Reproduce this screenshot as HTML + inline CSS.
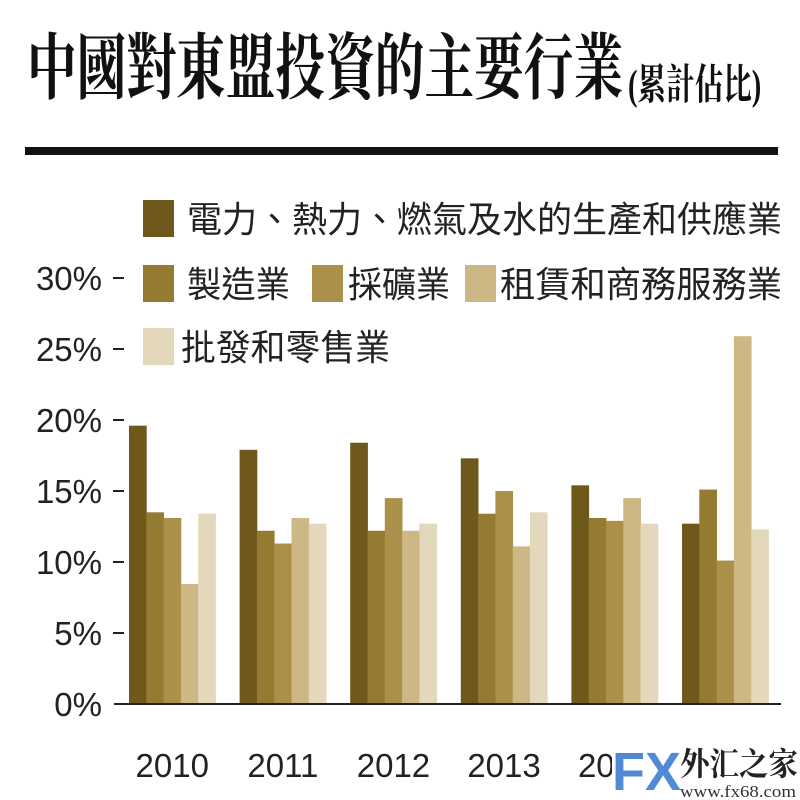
<!DOCTYPE html>
<html><head><meta charset="utf-8">
<style>
body{margin:0;background:#fff;}
#wrap{position:relative;width:800px;height:800px;overflow:hidden;background:#fff;font-family:"Liberation Sans","Noto Sans CJK TC",sans-serif;}
.t{position:absolute;white-space:nowrap;}
</style></head><body>
<div id="wrap">
<div class="t" style="left:27px;top:26px;font-family:'Liberation Serif','Noto Serif CJK SC',serif;font-weight:bold;font-size:72px;line-height:86px;transform:scaleX(0.69);transform-origin:0 0;color:#111;">中國對東盟投資的主要行業</div>
<div class="t" style="left:628px;top:60px;font-family:'Liberation Serif','Noto Serif CJK SC',serif;font-weight:bold;font-size:42px;line-height:52px;transform:scaleX(0.68);transform-origin:0 0;color:#111;">(累計佔比)</div>
<div style="position:absolute;left:25px;top:147px;width:753px;height:8px;background:#111;"></div>
<svg id="svg" width="800" height="800" style="position:absolute;left:0;top:0"></svg>
</div>
<script>
const categories=["2010","2011","2012","2013","2014","2015"];
const seriesNames=["電力、熱力、燃氣及水的生產和供應業","製造業","採礦業","租賃和商務服務業","批發和零售業"];
const sPower=[19.6,17.9,18.4,17.3,15.4,12.7];
const sMfg=[13.5,12.2,12.2,13.4,13.1,15.1];
const sMining=[13.1,11.3,14.5,15.0,12.9,10.1];
const sLeasing=[8.45,13.1,12.2,11.1,14.5,25.9];
const sRetail=[13.4,12.7,12.7,13.5,12.7,12.3];
const yTicks=[0,5,10,15,20,25,30];
const yTickLabels=["0%","5%","10%","15%","20%","25%","30%"];
const series=[sPower,sMfg,sMining,sLeasing,sRetail];
const colors=["#6f581c","#957a32","#ab9049","#cdb784","#e3d8bb"];
const NS="http://www.w3.org/2000/svg";
const svg=document.getElementById('svg');
const y0=704,pxPer=14.2,gx0=129,gStep=110.6,bw=17.3;
function yS(v){return y0-v*pxPer;}
function xS(ci,si){return gx0+ci*gStep+si*bw;}
function mk(tag,attrs){const e=document.createElementNS(NS,tag);for(const k in attrs)e.setAttribute(k,attrs[k]);svg.appendChild(e);return e;}
series.forEach((s,si)=>{s.forEach((v,ci)=>{
 const r=mk('rect',{x:xS(ci,si),y:yS(v),width:bw+0.4,height:y0-yS(v),fill:colors[si]});
 
 
});});
const ax=mk('line',{x1:114,x2:781,y1:y0,y2:y0,stroke:'#222','stroke-width':2});


yTicks.forEach((t,i)=>{
 if(t>0){const l=mk('line',{x1:113,x2:124,y1:yS(t),y2:yS(t),stroke:'#222','stroke-width':2});
 
 }
 const tx=mk('text',{x:102,y:yS(t)+12,'text-anchor':'end','font-size':33,'font-family':'Liberation Sans, sans-serif',fill:'#222'});
 tx.textContent=yTickLabels[i];
 
 
});
categories.forEach((c,ci)=>{
 const tx=mk('text',{x:xS(ci,0)+bw*2.5,y:777,'text-anchor':'middle','font-size':33,'font-family':'Liberation Sans, sans-serif',fill:'#222'});
 tx.textContent=c;
 
 
});
const leg=[[143,200,187,0],[143,265,187,1],[312,265,348,2],[465,265,500,3],[143,328,181,4]];
const legW=[595,103,102,282,209];
leg.forEach((L,i)=>{
 const r=mk('rect',{x:L[0],y:L[1],width:31,height:37,fill:colors[L[3]]});
 
 
 const t=mk('text',{x:L[2],y:L[1]+32,'font-size':36,'font-family':'Liberation Sans, Noto Sans CJK TC, sans-serif',fill:'#222',textLength:legW[i],lengthAdjust:'spacingAndGlyphs'});
 t.textContent=seriesNames[L[3]];
 
 
});
const wm=mk('rect',{x:612,y:738,width:188,height:62,fill:'#fff'});


const fx=mk('text',{x:612,y:790,'font-size':54,'font-weight':'bold','font-family':'Liberation Sans, sans-serif',fill:'#4f8ad6'});
fx.textContent='FX';


const wc=mk('text',{x:680,y:775,'font-size':32,'font-weight':'bold','font-family':'Noto Serif CJK SC, serif',fill:'#222',textLength:118,lengthAdjust:'spacingAndGlyphs'});
wc.textContent='外汇之家';


const wu=mk('text',{x:680,y:797,'font-size':17,'font-family':'Liberation Serif, serif',fill:'#333',textLength:116,lengthAdjust:'spacingAndGlyphs'});
wu.textContent='www.fx68.com';


</script>
</body></html>
